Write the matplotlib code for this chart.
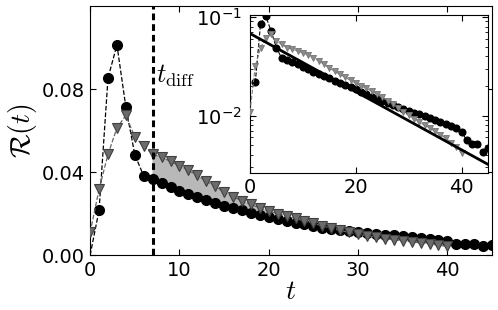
import numpy as np
import matplotlib
matplotlib.use("Agg")
import matplotlib.pyplot as plt

plt.rcParams['mathtext.fontset'] = 'cm'
plt.rcParams['font.family'] = ['DejaVu Sans']

# circles (black)
t_circ = np.arange(0, 46)
r_circ = [0.0, 0.0217, 0.0855, 0.1015, 0.0715, 0.0485, 0.0382, 0.0366, 0.0350, 0.0330,
          0.0310, 0.0294, 0.0279, 0.0264, 0.0250, 0.0238, 0.0226, 0.0216, 0.0205, 0.0194,
          0.0184, 0.0174, 0.0164, 0.0156, 0.0148, 0.0140, 0.0133, 0.0127, 0.0121, 0.0116,
          0.0111, 0.0107, 0.0103, 0.0099, 0.0095, 0.0091, 0.0087, 0.0082, 0.0078, 0.0074,
          0.0068, 0.0056, 0.0052, 0.0052, 0.0043, 0.0047]

# triangles (gray)
t_tri = np.arange(0, 41)
r_tri = [0.0110, 0.0318, 0.0487, 0.0614, 0.0675, 0.0570, 0.0527, 0.0487, 0.0472, 0.0453,
         0.0432, 0.0410, 0.0385, 0.0358, 0.0333, 0.0304, 0.0282, 0.0262, 0.0246, 0.0227,
         0.0213, 0.0200, 0.0189, 0.0177, 0.0165, 0.0153, 0.0141, 0.0130, 0.0119, 0.0110,
         0.0101, 0.0093, 0.0086, 0.0080, 0.0075, 0.0069, 0.0064, 0.0059, 0.0053, 0.0048,
         0.0042]

# exponential fit shown in the inset (end points)
fit_t = [0, 45]
fit_r = [0.068, 0.0032]

t_diff = 7
fill_range = (7, 20)

fig = plt.figure(figsize=(4.98, 3.10), dpi=100)
ax = fig.add_axes([0.181, 0.177, 0.807, 0.805])

tri_face = '0.42'
tri_edge = '0.25'

tc = np.array(t_circ)
tt = np.array(t_tri)
rc = np.array(r_circ)
rt = np.array(r_tri)
sel = (tt >= fill_range[0]) & (tt <= fill_range[1])
ax.fill_between(tt[sel], rc[:len(tt)][sel], rt[sel], color='0.72', zorder=1)

# the t=0 circle sits on the axis and is not drawn as a marker
ax.plot(t_circ, r_circ, '--', color='k', lw=0.9, marker='o', ms=7,
        mfc='k', mec='k', markevery=slice(1, None), zorder=3)
ax.plot(t_tri, r_tri, '--', color='0.4', lw=0.9, marker='v', ms=7.2,
        mfc=tri_face, mec=tri_edge, mew=0.8, zorder=4)
ax.axvline(t_diff, color='k', lw=2.2, dashes=(2.2, 1.3), zorder=5)
ax.text(7.4, 0.0834, r'$t_{\rm diff}$', fontsize=19, ha='left', va='baseline')

ax.set_xlim(0, 45)
ax.set_ylim(0, 0.1205)
ax.set_xticks([0, 10, 20, 30, 40])
ax.set_yticks([0.0, 0.04, 0.08])
ax.set_yticklabels(['0.00', '0.04', '0.08'])
ax.tick_params(direction='in', top=True, right=True, length=4, width=0.8,
               labelsize=14, pad=4)
ax.set_xlabel(r'$t$', fontsize=20, labelpad=-2)
ax.set_ylabel(r'$\mathcal{R}(t)$', fontsize=20, labelpad=2)

# inset
ins = fig.add_axes([0.502, 0.441, 0.478, 0.511])
ins.plot(t_circ[1:], r_circ[1:], '--', color='k', lw=0.8, marker='o', ms=4.8,
         mfc='k', mec='k', zorder=3)
ins.plot(t_tri, r_tri, '--', color='0.5', lw=0.8, marker='v', ms=4.8,
         mfc='0.55', mec='0.45', mew=0.6, zorder=4)
ins.plot(fit_t, fit_r, '-', color='k', lw=2, zorder=5)
ins.set_yscale('log')
ins.set_xlim(0, 45)
ins.set_ylim(0.0026, 0.105)
ins.set_xticks([0, 20, 40])
ins.tick_params(which='both', direction='in', top=True, right=True, labelsize=14)
ins.tick_params(which='major', length=4, width=0.8)
ins.tick_params(which='minor', length=2, width=0.6)
ins.tick_params(axis='y', pad=6)

fig.savefig('out.png', dpi=100)
